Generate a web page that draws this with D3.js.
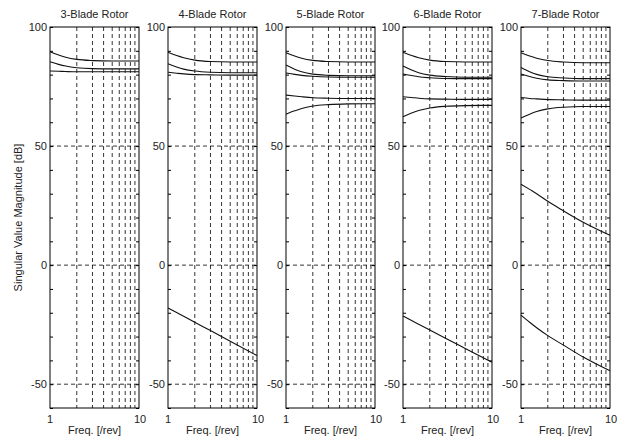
<!DOCTYPE html>
<html>
<head>
<meta charset="utf-8">
<script src="https://cdn.jsdelivr.net/npm/d3@7"></script>
<style>
  body { margin: 0; background: #fff; }
  text { font-family: "Liberation Sans", Arial, sans-serif; fill: #222; }
</style>
</head>
<body>
<div id="chart"></div>
<script>
var width = 617, height = 439;

// Data
var titles = ["3-Blade Rotor", "4-Blade Rotor", "5-Blade Rotor", "6-Blade Rotor", "7-Blade Rotor"];
var freqs = [1, 1.25, 1.5, 2, 3, 5, 10];
var yTickLabels = [100, 50, 0, -50];
var xTickLabels = [1, 10];

var blade3 = [
  [89.6, 88.2, 87.3, 86.4, 85.9, 85.7, 85.7],
  [85.4, 84.3, 83.6, 82.9, 82.5, 82.4, 82.4],
  [81.5, 81.4, 81.3, 81.2, 81.2, 81.2, 81.2]
];
var blade4 = [
  [89.4, 88.0, 87.1, 86.1, 85.5, 85.3, 85.3],
  [84.6, 83.2, 82.3, 81.5, 81.0, 80.8, 80.8],
  [81.0, 80.6, 80.3, 80.0, 79.9, 79.8, 79.8],
  [-18.0, -19.9, -21.5, -24.0, -27.5, -32.0, -38.0]
];
var blade5 = [
  [89.2, 87.8, 86.9, 86.0, 85.5, 85.3, 85.3],
  [84.0, 82.3, 81.2, 80.2, 79.7, 79.5, 79.5],
  [80.7, 80.1, 79.7, 79.3, 79.0, 78.9, 78.9],
  [71.4, 71.0, 70.7, 70.3, 70.1, 70.0, 70.0],
  [63.4, 64.8, 65.8, 66.8, 67.4, 67.7, 67.8]
];
var blade6 = [
  [89.4, 88.0, 87.1, 86.1, 85.5, 85.3, 85.3],
  [83.6, 81.9, 80.8, 79.8, 79.2, 78.9, 78.9],
  [80.3, 79.6, 79.1, 78.7, 78.4, 78.3, 78.3],
  [70.7, 70.4, 70.1, 69.8, 69.7, 69.6, 69.6],
  [62.3, 63.9, 64.9, 66.0, 66.7, 67.0, 67.1],
  [-21.4, -23.3, -24.8, -27.2, -30.7, -35.0, -40.8]
];
var blade7 = [
  [89.2, 87.8, 86.9, 85.9, 85.3, 85.0, 85.0],
  [83.0, 81.2, 80.1, 79.1, 78.6, 78.3, 78.3],
  [80.3, 79.2, 78.5, 77.8, 77.5, 77.3, 77.3],
  [70.4, 70.0, 69.8, 69.5, 69.4, 69.3, 69.3],
  [61.8, 63.4, 64.5, 65.6, 66.3, 66.6, 66.6],
  [34.0, 31.8, 30.0, 26.8, 22.8, 18.0, 12.5],
  [-21.0, -24.0, -26.3, -29.6, -33.6, -38.6, -44.4]
];
var panels = [blade3, blade4, blade5, blade6, blade7];

// Layout
var panelLeft = [50, 168, 286, 403, 521];
var panelW = 89;
var plotTop = 27, plotBottom = 408;

var y = d3.scaleLinear().domain([-60, 100]).range([plotBottom, plotTop]);

var svg = d3.select("#chart").append("svg")
    .attr("width", width)
    .attr("height", height);

svg.append("text")
    .attr("transform", "translate(22," + ((plotTop + plotBottom) / 2) + ") rotate(-90)")
    .attr("text-anchor", "middle")
    .style("font-size", "11px")
    .text("Singular Value Magnitude [dB]");

panels.forEach(function(curves, i) {
  var x = d3.scaleLog().domain([1, 10]).range([0, panelW]);
  var g = svg.append("g").attr("transform", "translate(" + panelLeft[i] + ",0)");

  // grid
  g.selectAll(".vgrid").data(d3.range(2, 10)).enter().append("line")
      .attr("x1", function(d) { return x(d); }).attr("x2", function(d) { return x(d); })
      .attr("y1", plotTop).attr("y2", plotBottom)
      .attr("stroke", "#000").attr("stroke-width", 0.8)
      .attr("stroke-dasharray", "4,3");
  g.selectAll(".hgrid").data([50, 0, -50]).enter().append("line")
      .attr("x1", 0).attr("x2", panelW)
      .attr("y1", function(d) { return y(d); }).attr("y2", function(d) { return y(d); })
      .attr("stroke", "#000").attr("stroke-width", 0.8)
      .attr("stroke-dasharray", "4,3");

  // inward ticks every 10 dB, both sides
  var yt = d3.range(-60, 101, 10);
  g.append("g").call(d3.axisRight(y).tickValues(yt).tickSize(3).tickFormat(""))
      .call(function(a) { a.select(".domain").remove(); });
  g.append("g").attr("transform", "translate(" + panelW + ",0)")
      .call(d3.axisLeft(y).tickValues(yt).tickSize(3).tickFormat(""))
      .call(function(a) { a.select(".domain").remove(); });

  // frame
  g.append("rect")
      .attr("x", 0).attr("y", plotTop).attr("width", panelW).attr("height", plotBottom - plotTop)
      .attr("fill", "none").attr("stroke", "#000").attr("stroke-width", 1);

  // curves
  var line = d3.line()
      .x(function(d, k) { return x(freqs[k]); })
      .y(function(d) { return y(d); })
      .curve(d3.curveMonotoneX);
  g.selectAll(".curve").data(curves).enter().append("path")
      .attr("d", line)
      .attr("fill", "none").attr("stroke", "#111").attr("stroke-width", 1.1);

  // labels
  g.selectAll(".ylab").data(yTickLabels).enter().append("text")
      .attr("x", -3).attr("y", function(d) { return y(d) + 4; })
      .attr("text-anchor", "end")
      .style("font-size", "11px")
      .text(function(d) { return d; });
  g.selectAll(".xlab").data(xTickLabels).enter().append("text")
      .attr("x", function(d) { return x(d) + (d === 1 ? 0 : 1); }).attr("y", plotBottom + 15)
      .attr("text-anchor", "middle")
      .style("font-size", "11px")
      .text(function(d) { return d; });

  g.append("text")
      .attr("x", panelW / 2).attr("y", 18)
      .attr("text-anchor", "middle")
      .style("font-size", "11px")
      .text(titles[i]);
  g.append("text")
      .attr("x", panelW / 2).attr("y", 434)
      .attr("text-anchor", "middle")
      .style("font-size", "11px")
      .text("Freq. [/rev]");
});
</script>
</body>
</html>
